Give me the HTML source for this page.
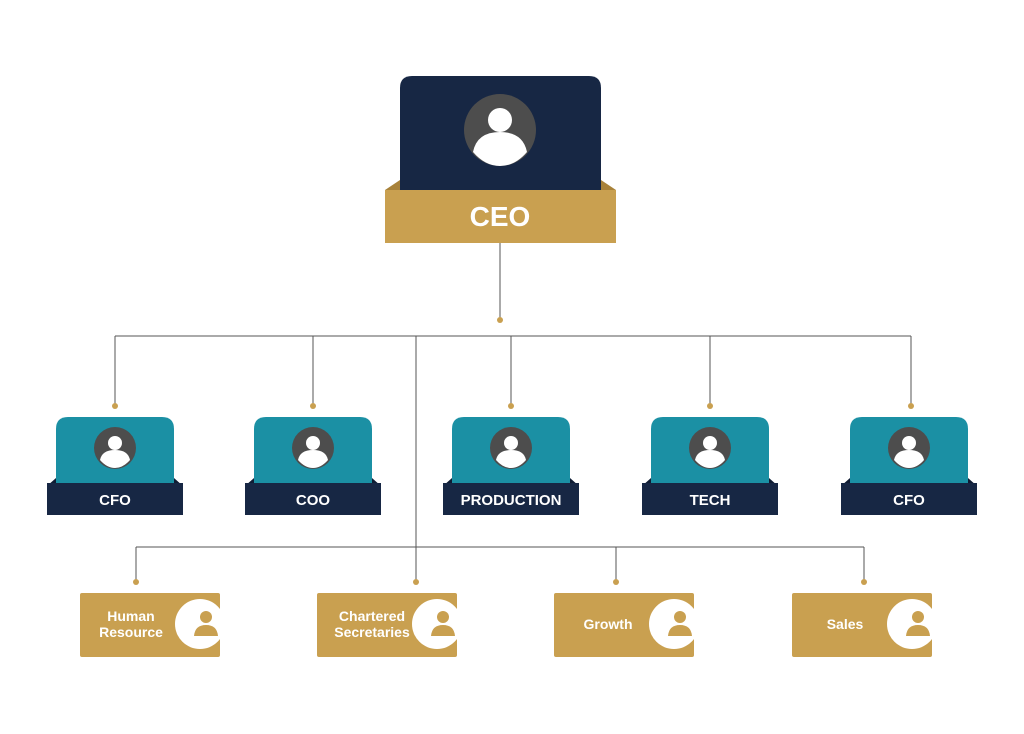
<!DOCTYPE html>
<html><head><style>
body{margin:0;background:#fff;width:1024px;height:734px;overflow:hidden;font-family:"Liberation Sans",sans-serif}
svg{display:block}
</style></head><body>
<svg width="1024" height="734" viewBox="0 0 1024 734">
<defs>
<clipPath id="c1"><rect x="80" y="593" width="140" height="64"/></clipPath>
<clipPath id="c2"><rect x="317" y="593" width="140" height="64"/></clipPath>
<clipPath id="c3"><rect x="554" y="593" width="140" height="64"/></clipPath>
<clipPath id="c4"><rect x="792" y="593" width="140" height="64"/></clipPath>
</defs>
<g stroke="#555" stroke-width="1" fill="none">
<line x1="500" y1="243" x2="500" y2="320"/>
<line x1="115" y1="336" x2="911" y2="336"/>
<line x1="115" y1="336" x2="115" y2="406"/>
<line x1="313" y1="336" x2="313" y2="406"/>
<line x1="511" y1="336" x2="511" y2="406"/>
<line x1="710" y1="336" x2="710" y2="406"/>
<line x1="911" y1="336" x2="911" y2="406"/>
<line x1="416" y1="336" x2="416" y2="582"/>
<line x1="136" y1="547" x2="864" y2="547"/>
<line x1="136" y1="547" x2="136" y2="582"/>
<line x1="616" y1="547" x2="616" y2="582"/>
<line x1="864" y1="547" x2="864" y2="582"/>
</g>
<g fill="#c9a050">
<circle cx="500" cy="320" r="3"/>
<circle cx="115" cy="406" r="3"/><circle cx="313" cy="406" r="3"/><circle cx="511" cy="406" r="3"/><circle cx="710" cy="406" r="3"/><circle cx="911" cy="406" r="3"/>
<circle cx="136" cy="582" r="3"/><circle cx="416" cy="582" r="3"/><circle cx="616" cy="582" r="3"/><circle cx="864" cy="582" r="3"/>
</g>
<!-- CEO -->
<polygon points="400,180 385,190 616,190 601,180" fill="#a8823a"/>
<path d="M400,190 V88 Q400,76 412,76 H589 Q601,76 601,88 V190 Z" fill="#172744"/>
<rect x="385" y="190" width="231" height="53" fill="#c9a050"/>
<circle cx="500" cy="130" r="36" fill="#4d4d4d"/>
<circle cx="500" cy="120" r="12" fill="#fff"/>
<path d="M473,152 Q477,132 500,132 Q523,132 527,152 Q515,166 500,166 Q485,166 473,152Z" fill="#fff"/>
<text x="500" y="226" text-anchor="middle" font-size="28" font-weight="bold" fill="#fff">CEO</text>
<!-- mid -->
<g id="m">
</g>
<g font-size="15" font-weight="bold" fill="#fff" text-anchor="middle">
<g transform="translate(115,0)"><polygon points="-59,478 -68,486 68,486 59,478" fill="#0f1c33"/><path d="M-59,486 V429 Q-59,417 -47,417 H47 Q59,417 59,429 V486Z" fill="#1b90a4"/><rect x="-68" y="483" width="136" height="32" fill="#172744"/><circle cx="0" cy="448" r="21" fill="#4d4d4d"/><circle cx="0" cy="443" r="7" fill="#fff"/><path d="M-15,460 Q-13,450 0,450 Q13,450 15,460 Q8,468 0,468 Q-8,468 -15,460Z" fill="#fff"/><text x="0" y="505">CFO</text></g>
<g transform="translate(313,0)"><polygon points="-59,478 -68,486 68,486 59,478" fill="#0f1c33"/><path d="M-59,486 V429 Q-59,417 -47,417 H47 Q59,417 59,429 V486Z" fill="#1b90a4"/><rect x="-68" y="483" width="136" height="32" fill="#172744"/><circle cx="0" cy="448" r="21" fill="#4d4d4d"/><circle cx="0" cy="443" r="7" fill="#fff"/><path d="M-15,460 Q-13,450 0,450 Q13,450 15,460 Q8,468 0,468 Q-8,468 -15,460Z" fill="#fff"/><text x="0" y="505">COO</text></g>
<g transform="translate(511,0)"><polygon points="-59,478 -68,486 68,486 59,478" fill="#0f1c33"/><path d="M-59,486 V429 Q-59,417 -47,417 H47 Q59,417 59,429 V486Z" fill="#1b90a4"/><rect x="-68" y="483" width="136" height="32" fill="#172744"/><circle cx="0" cy="448" r="21" fill="#4d4d4d"/><circle cx="0" cy="443" r="7" fill="#fff"/><path d="M-15,460 Q-13,450 0,450 Q13,450 15,460 Q8,468 0,468 Q-8,468 -15,460Z" fill="#fff"/><text x="0" y="505">PRODUCTION</text></g>
<g transform="translate(710,0)"><polygon points="-59,478 -68,486 68,486 59,478" fill="#0f1c33"/><path d="M-59,486 V429 Q-59,417 -47,417 H47 Q59,417 59,429 V486Z" fill="#1b90a4"/><rect x="-68" y="483" width="136" height="32" fill="#172744"/><circle cx="0" cy="448" r="21" fill="#4d4d4d"/><circle cx="0" cy="443" r="7" fill="#fff"/><path d="M-15,460 Q-13,450 0,450 Q13,450 15,460 Q8,468 0,468 Q-8,468 -15,460Z" fill="#fff"/><text x="0" y="505">TECH</text></g>
<g transform="translate(909,0)"><polygon points="-59,478 -68,486 68,486 59,478" fill="#0f1c33"/><path d="M-59,486 V429 Q-59,417 -47,417 H47 Q59,417 59,429 V486Z" fill="#1b90a4"/><rect x="-68" y="483" width="136" height="32" fill="#172744"/><circle cx="0" cy="448" r="21" fill="#4d4d4d"/><circle cx="0" cy="443" r="7" fill="#fff"/><path d="M-15,460 Q-13,450 0,450 Q13,450 15,460 Q8,468 0,468 Q-8,468 -15,460Z" fill="#fff"/><text x="0" y="505">CFO</text></g>
</g>
<!-- bottom -->
<g font-size="14" font-weight="bold" fill="#fff" text-anchor="middle">
<g clip-path="url(#c1)"><rect x="80" y="593" width="140" height="64" rx="2" fill="#c9a050"/><circle cx="200" cy="624" r="25" fill="#fff"/><circle cx="206" cy="617" r="6" fill="#c9a050"/><path d="M194,636 Q195,625 206,625 Q217,625 218,636Z" fill="#c9a050"/></g>
<text x="131" y="621">Human</text><text x="131" y="637">Resource</text>
<g clip-path="url(#c2)"><rect x="317" y="593" width="140" height="64" rx="2" fill="#c9a050"/><circle cx="437" cy="624" r="25" fill="#fff"/><circle cx="443" cy="617" r="6" fill="#c9a050"/><path d="M431,636 Q432,625 443,625 Q454,625 455,636Z" fill="#c9a050"/></g>
<text x="372" y="621">Chartered</text><text x="372" y="637">Secretaries</text>
<g clip-path="url(#c3)"><rect x="554" y="593" width="140" height="64" rx="2" fill="#c9a050"/><circle cx="674" cy="624" r="25" fill="#fff"/><circle cx="680" cy="617" r="6" fill="#c9a050"/><path d="M668,636 Q669,625 680,625 Q691,625 692,636Z" fill="#c9a050"/></g>
<text x="608" y="629">Growth</text>
<g clip-path="url(#c4)"><rect x="792" y="593" width="140" height="64" rx="2" fill="#c9a050"/><circle cx="912" cy="624" r="25" fill="#fff"/><circle cx="918" cy="617" r="6" fill="#c9a050"/><path d="M906,636 Q907,625 918,625 Q929,625 930,636Z" fill="#c9a050"/></g>
<text x="845" y="629">Sales</text>
</g>
</svg>
</body></html>
